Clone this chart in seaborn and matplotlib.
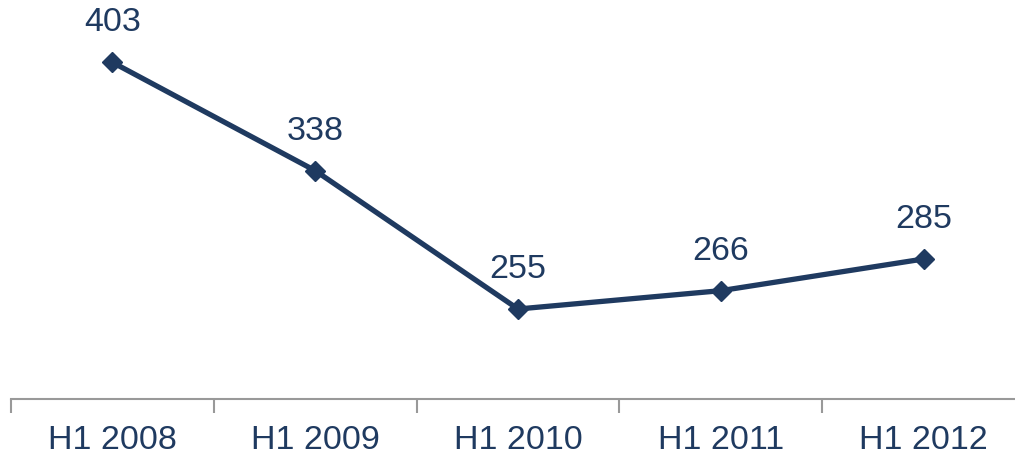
import matplotlib
matplotlib.use("Agg")
import matplotlib.pyplot as plt
import seaborn as sns
import pandas as pd

categories = ["H1 2008", "H1 2009", "H1 2010", "H1 2011", "H1 2012"]
values = [403, 338, 255, 266, 285]

sns.set_style("white")
plt.rcParams['font.family'] = ['Liberation Sans', 'DejaVu Sans']

color = "#1F3A60"
df = pd.DataFrame({"x": list(range(len(categories))), "y": values})

fig = plt.figure(figsize=(10.15, 4.6), dpi=100)
ax = fig.add_axes([11/1015, 60/460, 1014/1015, 400/460])
sns.lineplot(data=df, x="x", y="y", ax=ax, color=color, linewidth=3.8,
             marker="D", markersize=10, markeredgecolor=color, markeredgewidth=1)

ax.set_xlim(-0.5, 4.5)
ax.set_ylim(201, 441)
ax.set_xlabel("")
ax.set_ylabel("")
ax.set_yticks([])
ax.set_xticks([i + 0.5 for i in range(-1, len(categories))], minor=False)
ax.set_xticklabels([])
ax.set_xticks(list(range(len(categories))), minor=True)
ax.set_xticklabels(categories, minor=True, fontsize=24.5, color=color)
ax.tick_params(axis="x", which="major", bottom=True, length=10, width=1.5,
               color="#999999", direction="out")
ax.tick_params(axis="x", which="minor", bottom=True, length=0, pad=18)

for s in ["top", "right", "left"]:
    ax.spines[s].set_visible(False)
ax.spines["bottom"].set_color("#999999")
ax.spines["bottom"].set_linewidth(1.5)

for i, v in enumerate(values):
    ax.annotate(str(v), (i, v), xytext=(0, 18), textcoords="offset points",
                ha="center", va="bottom", fontsize=24.5, color=color)

fig.savefig("out.png", dpi=100)
